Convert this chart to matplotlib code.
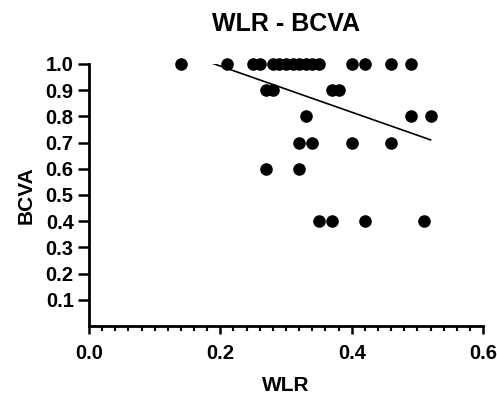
import numpy as np
import matplotlib
matplotlib.use('Agg')
import matplotlib.pyplot as plt
from matplotlib.ticker import MultipleLocator

plt.rcParams['font.family'] = ['Liberation Sans', 'DejaVu Sans']

# ── Data ────────────────────────────────────────────────────
wlr = [0.14, 0.21, 0.25, 0.26, 0.28, 0.29, 0.30, 0.31, 0.32, 0.33, 0.34, 0.35,
       0.40, 0.42, 0.46, 0.49,
       0.27, 0.28, 0.37, 0.38,
       0.33, 0.49, 0.52,
       0.32, 0.34, 0.40, 0.46,
       0.27, 0.32,
       0.35, 0.37, 0.42, 0.51]
bcva = [1.0] * 16 + [0.9] * 4 + [0.8] * 3 + [0.7] * 4 + [0.6] * 2 + [0.4] * 4

fit_slope = -0.88
fit_icpt = 1.168

x_ticks = [0.0, 0.2, 0.4, 0.6]
y_ticks = [0.1, 0.2, 0.3, 0.4, 0.5, 0.6, 0.7, 0.8, 0.9, 1.0]

fig = plt.figure(figsize=(4.97, 3.94), dpi=100)
ax = fig.add_axes([0.179, 0.1726, 0.793, 0.665])

ax.scatter(wlr, bcva, s=82, color='black', zorder=3, clip_on=False, linewidths=0)

xl = np.linspace(min(wlr), max(wlr), 50)
ax.plot(xl, fit_slope * xl + fit_icpt, color='black', linewidth=1.2, zorder=2)

ax.set_xlim(0, 0.6)
ax.set_ylim(0, 1.0)
ax.set_xticks(x_ticks)
ax.set_xticklabels([f'{v:.1f}' for v in x_ticks])
ax.xaxis.set_minor_locator(MultipleLocator(0.02))
ax.set_yticks(y_ticks)
ax.set_yticklabels([f'{v:.1f}' for v in y_ticks])

for s in ['top', 'right']:
    ax.spines[s].set_visible(False)
for s in ['left', 'bottom']:
    ax.spines[s].set_linewidth(2)

ax.tick_params(axis='y', which='major', width=1.8, length=8, labelsize=14.5, pad=3)
ax.tick_params(axis='x', which='major', width=1.8, length=6, labelsize=14.5, pad=7)
ax.tick_params(axis='x', which='minor', width=1.5, length=3.5)
for lab in ax.get_xticklabels() + ax.get_yticklabels():
    lab.set_fontweight('bold')

ax.set_xlabel('WLR', fontsize=15, fontweight='bold', labelpad=9)
ax.set_ylabel('BCVA', fontsize=15, fontweight='bold', labelpad=7)
ax.set_title('WLR - BCVA', fontsize=18, fontweight='bold', pad=24)

plt.savefig('out.png', dpi=100)
plt.close()
